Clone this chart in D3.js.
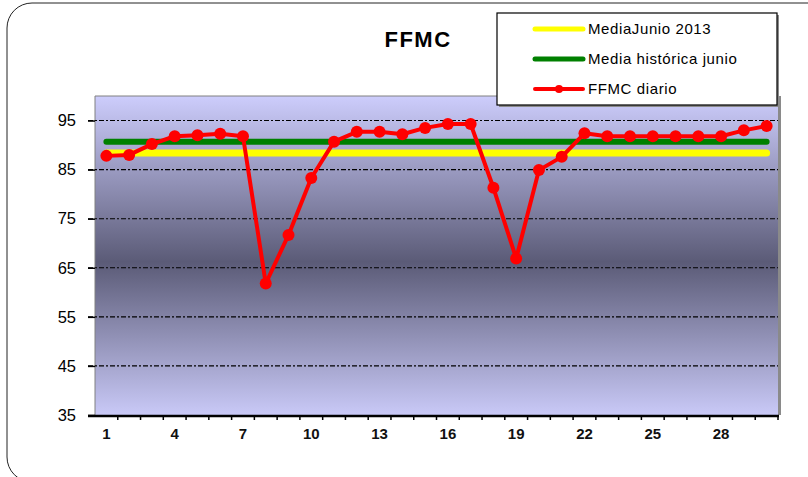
<!DOCTYPE html>
<html><head><meta charset="utf-8">
<script src="https://cdn.jsdelivr.net/npm/d3@7"></script>
<style>body{margin:0;background:#fff}svg{display:block}</style>
</head><body>
<script>
const days = d3.range(1, 31);
const ffmcDaily = [87.8,88.0,90.2,91.8,92.0,92.3,91.8,61.8,71.7,83.3,90.7,92.7,92.7,92.2,93.5,94.3,94.3,81.3,66.9,84.9,87.6,92.4,91.8,91.8,91.8,91.8,91.8,91.8,93.0,93.9];
const mediaJunio2013 = 88.4;
const mediaHistorica = 90.7;
const yTicks = [35,45,55,65,75,85,95];
const xTickLabels = [1,4,7,10,13,16,19,22,25,28];
const legendLabels = ["MediaJunio 2013","Media histórica junio","FFMC diario"];

const W = 808, H = 477;
const m = {l:95, r:778, t:96, b:415};
const svg = d3.select("body").append("svg").attr("width",W).attr("height",H);
const font = "'Liberation Sans', Arial, sans-serif";

// outer frame
svg.append("rect").attr("x",7).attr("y",3).attr("width",830).attr("height",479).attr("rx",25)
  .attr("fill","#fff").attr("stroke","#222").attr("stroke-width",1);

const x = d3.scaleBand().domain(days).range([m.l, m.r]);
const xc = d => x(d) + x.bandwidth()/2;
const y = d3.scaleLinear().domain([35,100]).range([m.b, m.t]);

const defs = svg.append("defs");
const g = defs.append("linearGradient").attr("id","bg").attr("x1",0).attr("x2",0).attr("y1",0).attr("y2",1);
g.append("stop").attr("offset","0").attr("stop-color","#CDCDFC");
g.append("stop").attr("offset","0.52").attr("stop-color","#5B5B77");
g.append("stop").attr("offset","1").attr("stop-color","#C9C9F7");

// plot area
svg.append("rect").attr("x",m.l).attr("y",m.t).attr("width",m.r-m.l).attr("height",m.b-m.t)
  .attr("fill","url(#bg)");
svg.append("line").attr("x1",m.r+1.5).attr("x2",m.r+1.5).attr("y1",m.t).attr("y2",m.b)
  .attr("stroke","#8a8a8a").attr("stroke-width",3);
svg.append("path").attr("d",`M${m.l},${m.b}V${m.t}H${m.r}`).attr("fill","none")
  .attr("stroke","#808080").attr("stroke-width",1);

// grid
svg.append("g").selectAll("line").data(yTicks.filter(t=>t>35)).join("line")
  .attr("x1",m.l-7).attr("x2",m.r).attr("y1",d=>y(d)).attr("y2",d=>y(d))
  .attr("stroke","#000").attr("stroke-width",1.1).attr("stroke-dasharray","5,2,2,2");

// y axis
const ya = svg.append("g").attr("transform",`translate(${m.l},0)`)
  .call(d3.axisLeft(y).tickValues(yTicks).tickSize(7).tickPadding(12));
ya.select(".domain").remove();
ya.selectAll(".tick line").attr("stroke","#000").attr("stroke-width",1.5);
ya.selectAll("text").attr("font-family",font).attr("font-size",16.5).attr("fill","#000");

// x axis
const xa = svg.append("g").attr("transform",`translate(0,${m.b})`)
  .call(d3.axisBottom(x).tickValues(xTickLabels).tickSize(0).tickPadding(13));
xa.select(".domain").remove();
xa.selectAll("text").attr("font-family",font).attr("font-size",15).attr("font-weight","bold").attr("fill","#111");
svg.append("line").attr("x1",m.l-7).attr("x2",m.r+1).attr("y1",m.b+1).attr("y2",m.b+1)
  .attr("stroke","#000").attr("stroke-width",2.5);
svg.append("g").selectAll("line").data(days.slice(1).concat([31])).join("line")
  .attr("x1",d=>d<=30?x(d):m.r).attr("x2",d=>d<=30?x(d):m.r)
  .attr("y1",m.b).attr("y2",m.b+5).attr("stroke","#000").attr("stroke-width",1.5);

// mean lines
svg.append("line").attr("x1",xc(1)).attr("x2",xc(30)).attr("y1",y(mediaJunio2013)).attr("y2",y(mediaJunio2013))
  .attr("stroke","#FFFF00").attr("stroke-width",7).attr("stroke-linecap","round");
svg.append("line").attr("x1",xc(1)).attr("x2",xc(30)).attr("y1",y(mediaHistorica)).attr("y2",y(mediaHistorica))
  .attr("stroke","#008000").attr("stroke-width",6).attr("stroke-linecap","round");

// daily
const line = d3.line().x((d,i)=>xc(days[i])).y(d=>y(d));
svg.append("path").datum(ffmcDaily).attr("d",line).attr("fill","none")
  .attr("stroke","#FF0000").attr("stroke-width",4).attr("stroke-linejoin","round");
svg.append("g").selectAll("circle").data(ffmcDaily).join("circle")
  .attr("cx",(d,i)=>xc(days[i])).attr("cy",d=>y(d)).attr("r",6).attr("fill","#FF0000");

// title
svg.append("text").attr("x",418).attr("y",47).attr("text-anchor","middle")
  .attr("font-family",font).attr("font-weight","bold").attr("font-size",22).attr("letter-spacing",1.5).text("FFMC");

// legend
const lg = svg.append("g");
lg.append("rect").attr("x",499).attr("y",15).attr("width",280).attr("height",92).attr("fill","#8a8a8a");
lg.append("rect").attr("x",497).attr("y",13).attr("width",280).attr("height",92)
  .attr("fill","#fff").attr("stroke","#000").attr("stroke-width",1.2);
const lc = ["#FFFF00","#008000","#FF0000"];
legendLabels.forEach((t,i)=>{
  const yy = 29 + i*30;
  lg.append("line").attr("x1",535).attr("x2",583).attr("y1",yy).attr("y2",yy)
    .attr("stroke",lc[i]).attr("stroke-width",i==2?4:5).attr("stroke-linecap","round");
  if(i==2) lg.append("circle").attr("cx",559).attr("cy",yy).attr("r",4).attr("fill","#FF0000");
  lg.append("text").attr("x",588).attr("y",yy+5).attr("font-family",font).attr("font-size",15)
    .attr("letter-spacing",0.6).text(t);
});
</script>
</body></html>
